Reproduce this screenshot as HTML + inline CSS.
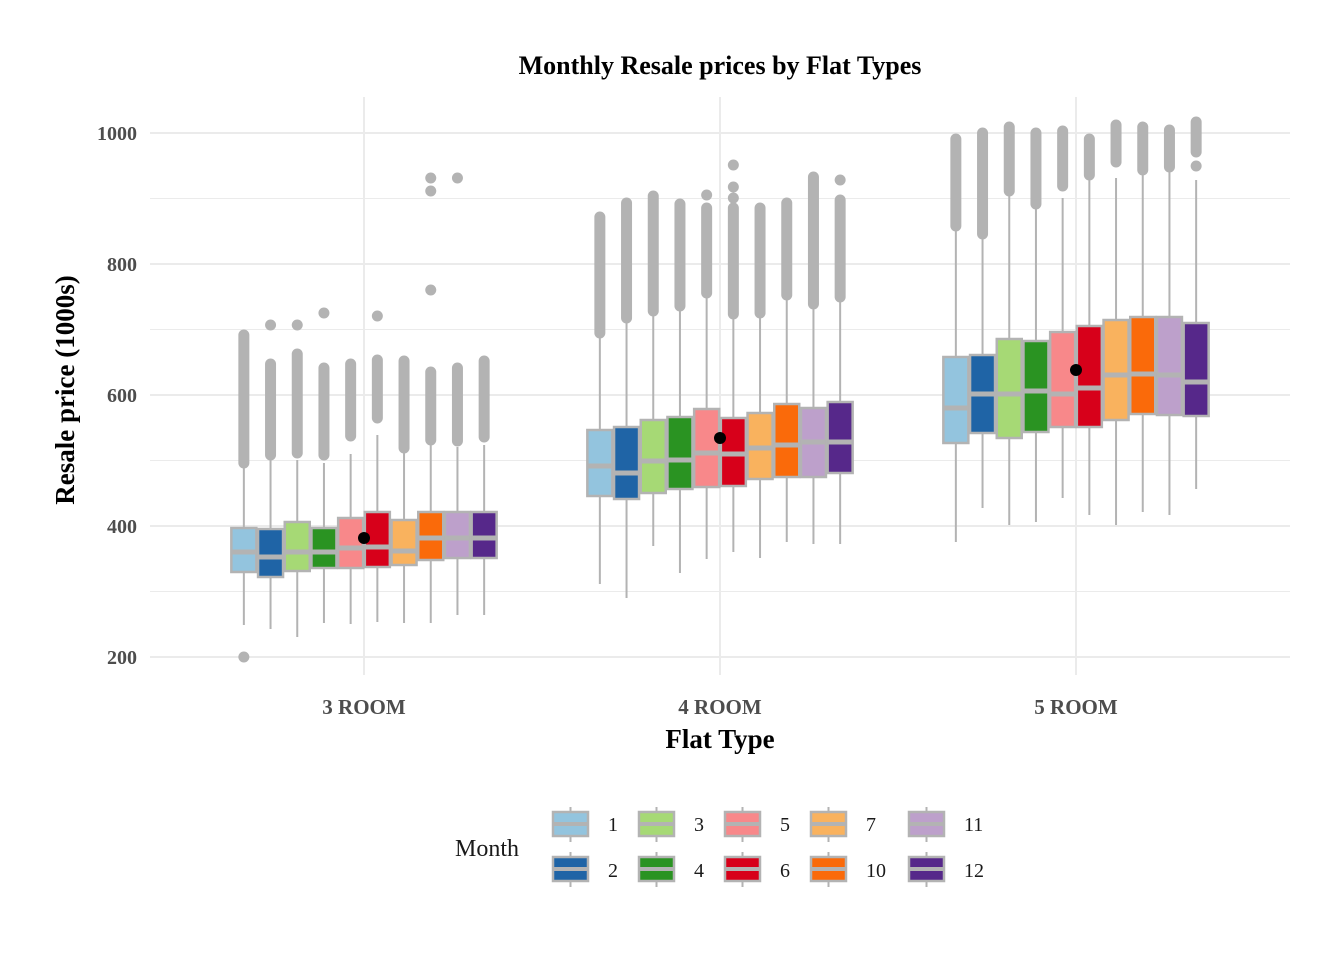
<!DOCTYPE html>
<html><head><meta charset="utf-8"><style>
html,body{margin:0;padding:0;background:#fff;}
svg{display:block;font-family:"Liberation Serif",serif;}
</style></head><body>
<svg id="s" width="1344" height="960" viewBox="0 0 1344 960" xmlns="http://www.w3.org/2000/svg">
<rect width="1344" height="960" fill="#fff"/>
<g id="grid" stroke="#ebebeb">
<line x1="150" x2="1290" y1="198.5" y2="198.5" stroke-width="1"/>
<line x1="150" x2="1290" y1="329.5" y2="329.5" stroke-width="1"/>
<line x1="150" x2="1290" y1="460.5" y2="460.5" stroke-width="1"/>
<line x1="150" x2="1290" y1="591.5" y2="591.5" stroke-width="1"/>
<line x1="150" x2="1290" y1="133" y2="133" stroke-width="2"/>
<line x1="150" x2="1290" y1="264" y2="264" stroke-width="2"/>
<line x1="150" x2="1290" y1="395" y2="395" stroke-width="2"/>
<line x1="150" x2="1290" y1="526" y2="526" stroke-width="2"/>
<line x1="150" x2="1290" y1="657" y2="657" stroke-width="2"/>
<line x1="364" x2="364" y1="97" y2="675" stroke-width="2"/>
<line x1="720" x2="720" y1="97" y2="675" stroke-width="2"/>
<line x1="1076" x2="1076" y1="97" y2="675" stroke-width="2"/>
</g>
<g id="boxes"></g>
<circle cx="364" cy="538" r="6" fill="#000"/>
<circle cx="720" cy="438" r="6" fill="#000"/>
<circle cx="1076" cy="370" r="6" fill="#000"/>
<text x="720" y="74" text-anchor="middle" font-size="26" font-weight="bold" fill="#000">Monthly Resale prices by Flat Types</text>
<g font-size="20" font-weight="bold" fill="#4d4d4d" text-anchor="end">
<text x="137" y="140">1000</text><text x="137" y="271">800</text><text x="137" y="402">600</text><text x="137" y="533">400</text><text x="137" y="664">200</text>
</g>
<g font-size="21" font-weight="bold" fill="#4d4d4d" text-anchor="middle">
<text x="364" y="714">3 ROOM</text><text x="720" y="714">4 ROOM</text><text x="1076" y="714">5 ROOM</text>
</g>
<text x="720" y="748" text-anchor="middle" font-size="27" font-weight="bold" fill="#000">Flat Type</text>
<text transform="translate(74,390) rotate(-90)" text-anchor="middle" font-size="27" font-weight="bold" fill="#000">Resale price (1000s)</text>
<text x="455" y="856" font-size="24" fill="#1a1a1a">Month</text>
<g id="legend"></g>
<g font-size="20" fill="#1a1a1a">
<text x="608" y="831">1</text><text x="608" y="877">2</text>
<text x="694" y="831">3</text><text x="694" y="877">4</text>
<text x="780" y="831">5</text><text x="780" y="877">6</text>
<text x="866" y="831">7</text><text x="866" y="877">10</text>
<text x="964" y="831">11</text><text x="964" y="877">12</text>
</g>
</svg>
<script>
var C=["#93c4de","#1f64a6","#a6d975","#2a9322","#f8888a","#d7001a","#f9b25e","#fa6a0a","#bda0cb","#56288a"];
// [low,q1,med,q3,high,outTop,outBot,extra...]
var D={364:[[625,572,552,528,468,335,463,[657]],[629,577,557,529,460,364,455,[325]],[637,571,552,522,460,354,453,[325]],[623,568,552,528,463,368,455,[313]],[624,568,548,518,454,364,436,[]],[622,567,547,512,435,360,418,[316]],[623,565,551,520,453,361,448,[]],[623,560,538,512,444,372,440,[178,191,290]],[615,558,538,512,447,368,441,[178]],[615,558,538,512,445,361,437,[]]],
720:[[584,496,466,430,337,217,333,[]],[598,499,473,427,322,203,318,[]],[546,493,461,420,315,196,311,[]],[573,489,460,417,310,204,306,[]],[559,487,453,409,297,208,293,[195]],[552,486,454,418,318,208,314,[165,187,198]],[558,479,448,413,317,208,313,[]],[542,477,445,404,298,203,295,[]],[544,477,442,408,308,177,304,[]],[544,473,442,402,301,200,297,[180]]],
1076:[[542,443,408,357,231,139,226,[]],[508,433,394,355,237,133,234,[]],[525,438,394,339,194,127,191,[]],[522,432,391,341,207,133,204,[]],[498,427,394,332,198,131,186,[]],[515,427,388,326,177,139,175,[]],[525,420,375,320,178,125,162,[]],[512,414,374,317,172,127,170,[]],[515,415,375,317,170,130,167,[]],[489,416,382,323,180,122,152,[166]]]};
var h="";
for(var c in D){D[c].forEach(function(b,i){var x=+c+(i-4.5)*26.7,w=25;
h+='<line x1="'+x+'" x2="'+x+'" y1="'+b[0]+'" y2="'+b[4]+'" stroke="#b3b3b3" stroke-width="2"/>';
h+='<line x1="'+x+'" x2="'+x+'" y1="'+b[5]+'" y2="'+b[6]+'" stroke="#b3b3b3" stroke-width="11" stroke-linecap="round"/>';
b[7].forEach(function(y){h+='<circle cx="'+x+'" cy="'+y+'" r="5.5" fill="#b3b3b3"/>';});
h+='<rect x="'+(x-w/2)+'" y="'+b[3]+'" width="'+w+'" height="'+(b[1]-b[3])+'" fill="'+C[i]+'" stroke="#b3b3b3" stroke-width="2.5"/>';
h+='<line x1="'+(x-w/2)+'" x2="'+(x+w/2)+'" y1="'+b[2]+'" y2="'+b[2]+'" stroke="#b3b3b3" stroke-width="5"/>';});}
document.getElementById("boxes").innerHTML=h;
var L="",xs=[553,639,725,811,909];
for(var i=0;i<10;i++){var x=xs[Math.floor(i/2)],y=(i%2)?857:812,cx=x+17.5;
L+='<line x1="'+cx+'" x2="'+cx+'" y1="'+(y-5)+'" y2="'+(y+30)+'" stroke="#b3b3b3" stroke-width="2"/>';
L+='<rect x="'+x+'" y="'+y+'" width="35" height="24" fill="'+C[i]+'" stroke="#b3b3b3" stroke-width="2.5"/>';
L+='<line x1="'+x+'" x2="'+(x+35)+'" y1="'+(y+12)+'" y2="'+(y+12)+'" stroke="#b3b3b3" stroke-width="4"/>';}
document.getElementById("legend").innerHTML=L;
</script>
</body></html>
